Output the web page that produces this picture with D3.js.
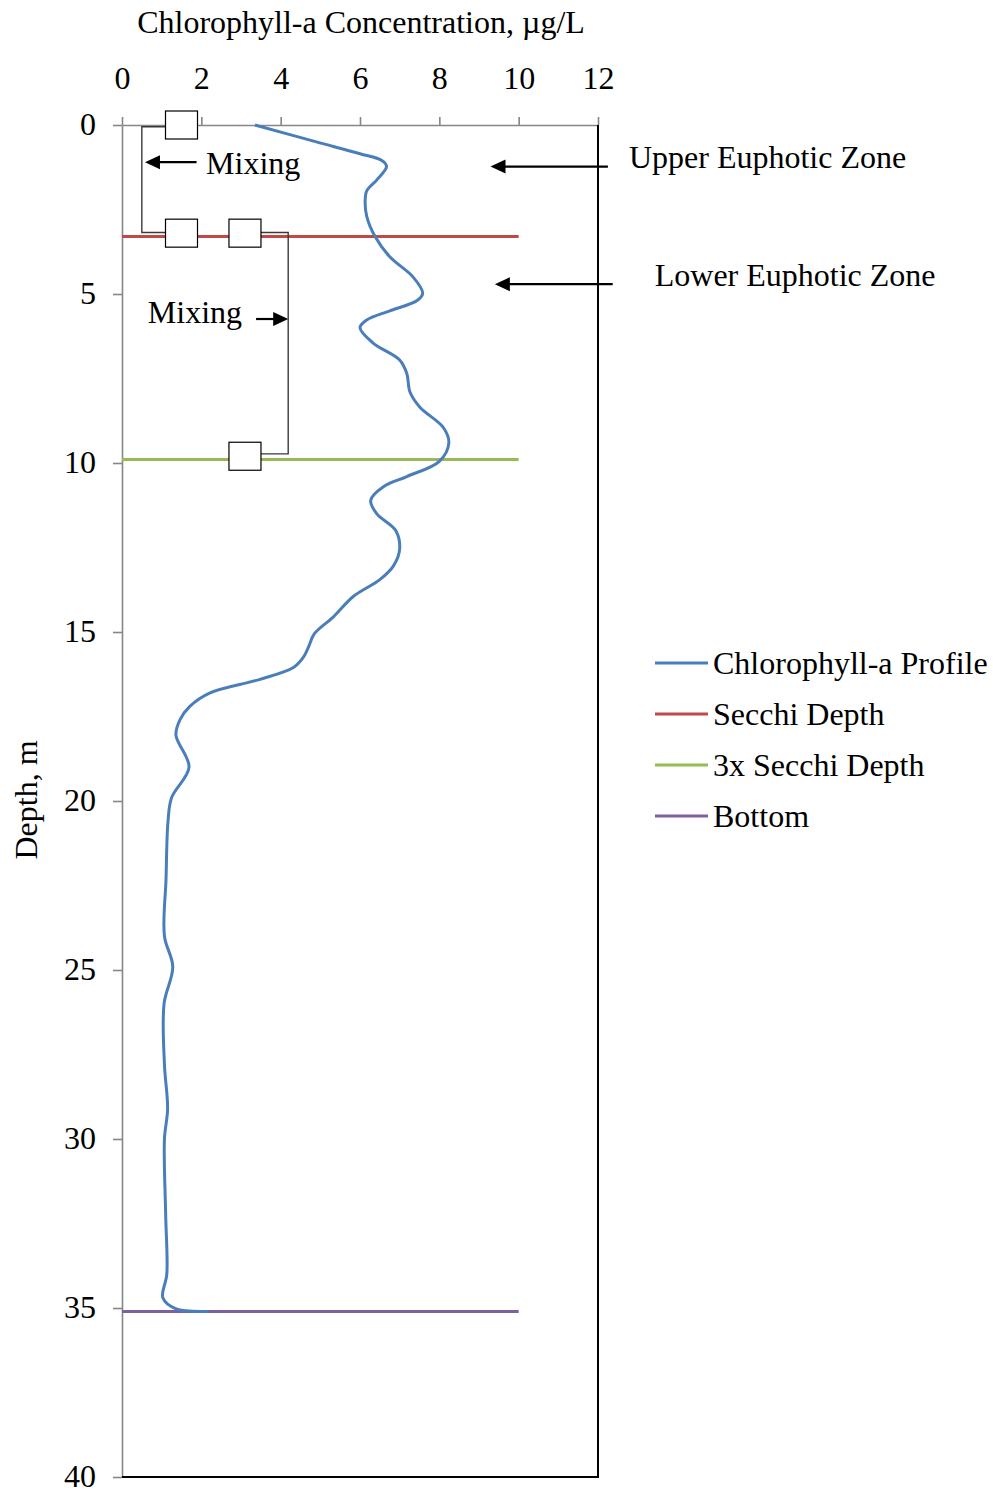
<!DOCTYPE html>
<html>
<head>
<meta charset="utf-8">
<script src="https://cdn.jsdelivr.net/npm/d3@7"></script>
<style>
  html, body { margin: 0; padding: 0; background: #fff; }
  svg { display: block; }
</style>
</head>
<body>
<div id="chart"></div>
<script>
  // Профиль хлорофилла: глубина (м) и концентрация (мкг/л)
  const profileDepth = [0, 0.5, 0.85, 1.05, 1.23, 1.63, 1.95, 2.25, 2.7, 3.3, 3.9, 4.5, 4.98, 5.2, 5.5, 5.77, 6.0, 6.45, 6.95, 7.35, 7.9, 8.35, 8.95, 9.4, 9.95, 10.4, 10.7, 11.1, 11.5, 12.0, 12.55, 13.05, 13.45, 13.95, 14.55, 15.05, 15.45, 15.75, 16.05, 16.4, 16.8, 17.2, 17.6, 18.05, 19.0, 19.9, 20.6, 22.3, 24.0, 24.9, 26.0, 27.8, 29.1, 30.0, 32.2, 34.0, 34.7, 35.02, 35.1];
  const profileValue = [3.35, 4.9, 6.0, 6.55, 6.67, 6.42, 6.17, 6.13, 6.17, 6.38, 6.75, 7.34, 7.58, 7.43, 6.75, 6.17, 6.0, 6.33, 7.0, 7.18, 7.26, 7.51, 8.1, 8.24, 8.0, 7.18, 6.59, 6.27, 6.42, 6.9, 7.0, 6.84, 6.5, 5.83, 5.33, 4.85, 4.7, 4.57, 4.32, 3.48, 2.22, 1.71, 1.46, 1.36, 1.69, 1.25, 1.16, 1.11, 1.07, 1.28, 1.06, 1.07, 1.15, 1.07, 1.1, 1.13, 1.03, 1.35, 2.2];

  // Горизонтальные уровни (от 0 до 10 мкг/л)
  const levelNames = ['Secchi Depth', '3x Secchi Depth', 'Bottom'];
  const levelDepths = [3.3, 9.9, 35.1];
  const levelX = [0, 10];

  // Перемешивание: маркеры и скобки
  const mixPointsX = [1.5, 1.5, 3.1, 3.1];
  const mixPointsDepth = [0, 3.2, 3.2, 9.8];
  const bracket1 = [[1.5, 0.05], [0.5, 0.05], [0.5, 3.18], [1.5, 3.18]];
  const bracket2 = [[3.1, 3.18], [4.19, 3.18], [4.19, 9.73], [3.1, 9.73]];

  const xTicks = [0, 2, 4, 6, 8, 10, 12];
  const yTicks = [0, 5, 10, 15, 20, 25, 30, 35, 40];

  const legendNames = ['Chlorophyll-a Profile', 'Secchi Depth', '3x Secchi Depth', 'Bottom'];

  // Стрелки-аннотации (в единицах данных): from, to, текст и его позиция
  const annotations = [
    { from: [1.88, 1.1], to: [0.58, 1.1], text: 'Mixing', at: [2.12, 1.45] },
    { from: [3.38, 5.74], to: [4.19, 5.74], text: 'Mixing', at: [0.65, 5.85] },
    { from: [12.25, 1.23], to: [9.29, 1.23], text: 'Upper Euphotic Zone', at: [12.78, 1.28] },
    { from: [12.37, 4.71], to: [9.4, 4.71], text: 'Lower Euphotic Zone', at: [13.43, 4.76] }
  ];

  const COLORS = {
    profile: '#4a7ebb',
    levels: ['#be4b48', '#98b954', '#7d60a0'],
    axis: '#868686'
  };
  const FONT = '"Liberation Serif", "Times New Roman", serif';
  const FS = 32;

  const width = 993, height = 1492;
  const x = d3.scaleLinear().domain([0, 12]).range([122, 598]);
  const y = d3.scaleLinear().domain([0, 40]).range([125, 1477]);

  const svg = d3.select('#chart').append('svg')
    .attr('width', width)
    .attr('height', height)
    .attr('font-family', FONT);

  // Оси
  const xAxis = svg.append('g')
    .attr('transform', `translate(0,${y(0)})`)
    .call(d3.axisTop(x).tickValues(xTicks).tickSize(8).tickSizeOuter(0).tickPadding(28));
  const yAxis = svg.append('g')
    .attr('transform', `translate(${x(0)},0)`)
    .call(d3.axisLeft(y).tickValues(yTicks).tickSize(9).tickSizeOuter(0).tickPadding(17));

  [xAxis, yAxis].forEach((a) => {
    a.attr('font-family', FONT).attr('font-size', FS);
    a.selectAll('path, line').attr('stroke', COLORS.axis).attr('stroke-width', 1.6);
    a.selectAll('text').attr('fill', '#000');
  });
  yAxis.selectAll('text').attr('dy', '0.3em');

  // Правая и нижняя рамка
  svg.append('path')
    .attr('d', `M${x(12)},${y(0)}V${y(40)}H${x(0)}`)
    .attr('fill', 'none')
    .attr('stroke', '#000')
    .attr('stroke-width', 2);

  // Заголовки осей
  svg.append('text')
    .attr('x', 361)
    .attr('y', 33)
    .attr('text-anchor', 'middle')
    .attr('font-size', FS)
    .text('Chlorophyll-a Concentration, µg/L');

  svg.append('text')
    .attr('transform', 'translate(37,800) rotate(-90)')
    .attr('text-anchor', 'middle')
    .attr('font-size', FS)
    .text('Depth, m');

  // Горизонтальные уровни
  levelDepths.forEach((d, i) => {
    svg.append('line')
      .attr('x1', x(levelX[0]))
      .attr('x2', x(levelX[1]))
      .attr('y1', y(d))
      .attr('y2', y(d))
      .attr('stroke', COLORS.levels[i])
      .attr('stroke-width', 3);
  });

  // Профиль хлорофилла
  const profile = profileDepth.map((d, i) => [profileValue[i], d]);
  const line = d3.line()
    .x((p) => x(p[0]))
    .y((p) => y(p[1]))
    .curve(d3.curveCatmullRom.alpha(0.5));

  svg.append('path')
    .datum(profile)
    .attr('d', line)
    .attr('fill', 'none')
    .attr('stroke', COLORS.profile)
    .attr('stroke-width', 3);

  // Скобки перемешивания
  const straight = d3.line().x((p) => x(p[0])).y((p) => y(p[1]));
  [bracket1, bracket2].forEach((b) => {
    svg.append('path')
      .datum(b)
      .attr('d', straight)
      .attr('fill', 'none')
      .attr('stroke', '#3a3a3a')
      .attr('stroke-width', 1.4);
  });

  // Квадратные маркеры
  mixPointsX.forEach((v, i) => {
    svg.append('rect')
      .attr('x', x(v) - 16)
      .attr('y', y(mixPointsDepth[i]) - 14)
      .attr('width', 32)
      .attr('height', 28)
      .attr('fill', '#fff')
      .attr('stroke', '#000')
      .attr('stroke-width', 1.2);
  });

  // Стрелки и подписи
  annotations.forEach((a) => {
    const x0 = x(a.from[0]), y0 = y(a.from[1]);
    const x1 = x(a.to[0]), y1 = y(a.to[1]);
    const dir = Math.sign(x1 - x0);
    const headLen = 15, headHalf = 7;
    svg.append('line')
      .attr('x1', x0).attr('y1', y0)
      .attr('x2', x1 - dir * headLen + dir).attr('y2', y1)
      .attr('stroke', '#000')
      .attr('stroke-width', 2.2);
    svg.append('path')
      .attr('d', `M${x1},${y1}L${x1 - dir * headLen},${y1 - headHalf}L${x1 - dir * headLen},${y1 + headHalf}Z`)
      .attr('fill', '#000');
    svg.append('text')
      .attr('x', x(a.at[0]))
      .attr('y', y(a.at[1]))
      .attr('font-size', FS)
      .text(a.text);
  });

  // Легенда
  const legendColors = [COLORS.profile].concat(COLORS.levels);
  const legend = svg.append('g').attr('transform', 'translate(655,663)');
  legendNames.forEach((name, i) => {
    const row = legend.append('g').attr('transform', `translate(0,${i * 51})`);
    row.append('line')
      .attr('x1', 0).attr('x2', 53)
      .attr('stroke', legendColors[i])
      .attr('stroke-width', 3);
    row.append('text')
      .attr('x', 58)
      .attr('y', 11)
      .attr('font-size', FS)
      .text(name);
  });
</script>
</body>
</html>
